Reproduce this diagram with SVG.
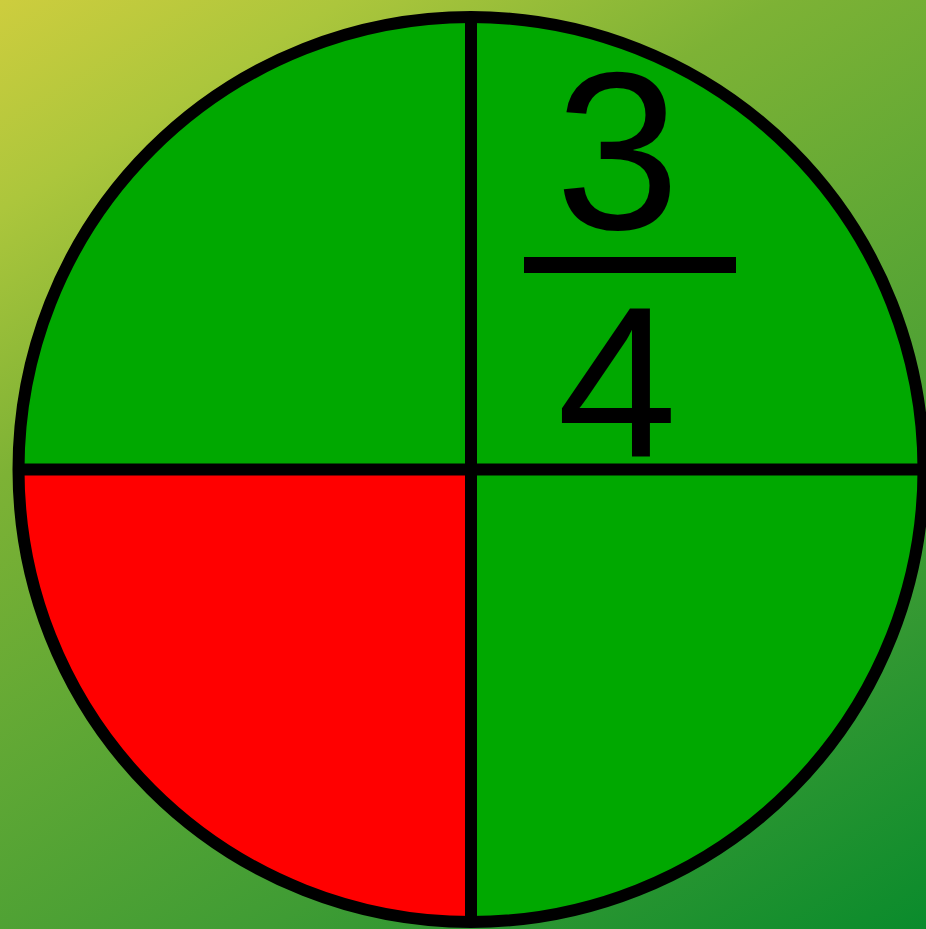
<svg xmlns="http://www.w3.org/2000/svg" width="926" height="929" viewBox="0 0 926 929">
  <defs>
    <linearGradient id="bg" x1="0" y1="0" x2="0.716" y2="1.173">
      <stop offset="0" stop-color="#cdcd3e"/>
      <stop offset="0.14" stop-color="#acc63c"/>
      <stop offset="0.32" stop-color="#7db235"/>
      <stop offset="0.73" stop-color="#3f9c34"/>
      <stop offset="1" stop-color="#0a8b2c"/>
    </linearGradient>
    <clipPath id="circ"><circle cx="471" cy="469.5" r="452.5"/></clipPath>
  </defs>
  <style>
    .q { stroke: none; }
    .ln { stroke: #000; stroke-width: 12; fill: none; }
    .num { font-family: "Liberation Sans", Arial, sans-serif; fill: #000; text-anchor: middle; }
  </style>
  <rect width="926" height="929" fill="url(#bg)"/>
  <g id="pie" clip-path="url(#circ)">
    <rect id="q-tl" class="q" x="0" y="0" width="471" height="469.5" fill="#00a800"/>
    <rect id="q-tr" class="q" x="471" y="0" width="455" height="469.5" fill="#00a800"/>
    <rect id="q-bl" class="q" x="0" y="469.5" width="471" height="460" fill="#ff0000"/>
    <rect id="q-br" class="q" x="471" y="469.5" width="455" height="460" fill="#00a800"/>
  </g>
  <g id="lines">
    <line class="ln" x1="471" y1="17" x2="471" y2="922"/>
    <line class="ln" x1="18.5" y1="469.5" x2="923.5" y2="469.5"/>
    <circle class="ln" cx="471" cy="469.5" r="452.5"/>
  </g>
  <g id="fraction">
    <text class="num" x="617.5" y="229" font-size="224">3</text>
    <rect x="524" y="257" width="212" height="16" fill="#000"/>
    <text class="num" x="617" y="457" font-size="216">4</text>
  </g>
</svg>
